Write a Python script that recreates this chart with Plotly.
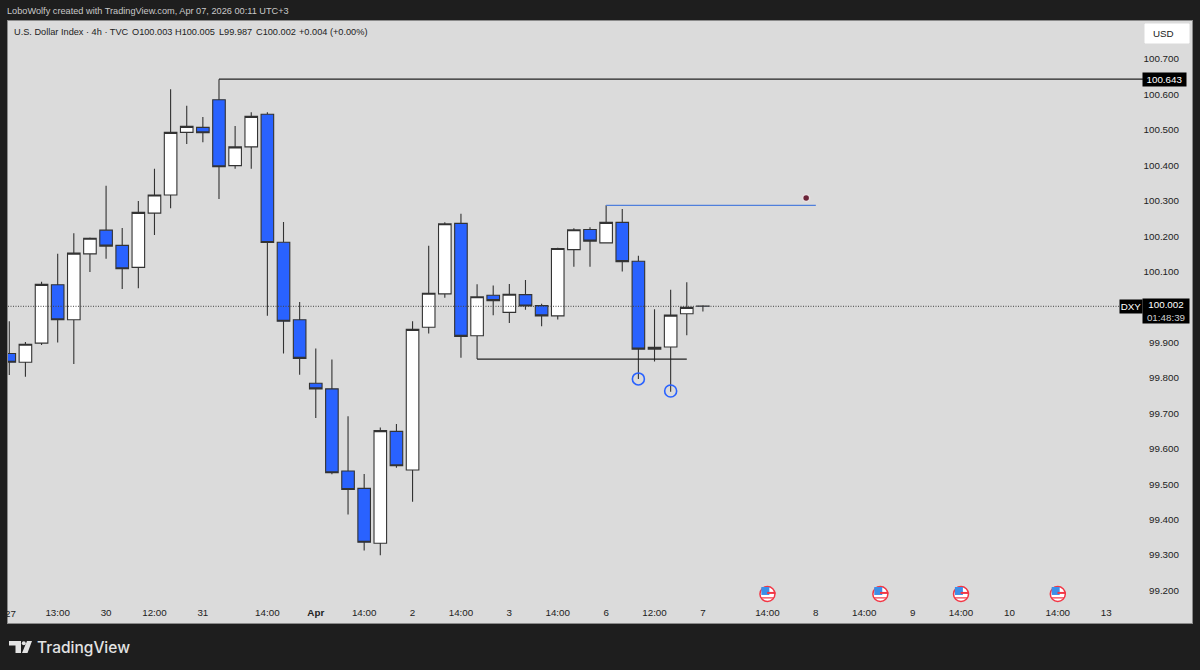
import plotly.graph_objects as go

# 4h DXY candles
opens = [99.869, 99.844, 99.898, 100.063, 99.964, 100.150, 100.217, 100.174, 100.112, 100.265, 100.316,
         100.493, 100.507, 100.585, 100.399, 100.452, 100.544, 100.183, 99.964, 99.785, 99.769, 99.537,
         99.488, 99.333, 99.649, 99.540, 99.943, 100.037, 100.236, 99.919, 100.033, 99.985, 100.035,
         100.004, 99.975, 100.162, 100.219, 100.181, 100.239, 100.129, 99.881, 99.887, 99.981, 100.003]
closes = [99.844, 99.895, 100.064, 99.964, 100.152, 100.194, 100.172, 100.108, 100.267, 100.316, 100.493,
          100.510, 100.492, 100.396, 100.452, 100.538, 100.182, 99.960, 99.855, 99.769, 99.532, 99.485,
          99.336, 99.651, 99.552, 99.937, 100.039, 100.235, 99.917, 100.029, 100.018, 100.036, 100.003,
          99.975, 100.165, 100.218, 100.186, 100.239, 100.128, 99.881, 99.886, 99.977, 99.999, 100.002]
highs = [99.960, 99.901, 100.071, 100.150, 100.208, 100.196, 100.342, 100.223, 100.299, 100.390, 100.615,
         100.568, 100.536, 100.643, 100.511, 100.550, 100.550, 100.240, 100.014, 99.883, 99.852, 99.692,
         99.529, 99.660, 99.670, 99.960, 100.173, 100.239, 100.263, 100.064, 100.061, 100.065, 100.076,
         100.009, 100.167, 100.222, 100.225, 100.287, 100.277, 100.145, 99.994, 100.049, 100.070, 100.005]
lows = [99.808, 99.803, 99.893, 99.900, 99.839, 100.099, 100.136, 100.051, 100.053, 100.203, 100.279,
        100.460, 100.465, 100.305, 100.390, 100.390, 99.975, 99.869, 99.809, 99.687, 99.528, 99.414,
        99.313, 99.299, 99.546, 99.450, 99.925, 100.026, 99.857, 99.853, 99.977, 99.955, 99.992,
        99.946, 99.965, 100.114, 100.114, 100.181, 100.100, 99.797, 99.846, 99.761, 99.920, 99.987]
bar_index = list(range(len(opens)))

time_ticks = [3, 6, 9, 12, 16, 19, 22, 25, 28, 31, 34, 37, 40, 43, 47, 50, 53, 56, 59, 62, 65, 68]
time_labels = ["13:00", "30", "12:00", "31", "14:00", "<b>Apr</b>", "14:00", "2", "14:00", "3", "14:00",
               "6", "12:00", "7", "14:00", "8", "14:00", "9", "14:00", "10", "14:00", "13"]
# 100.000 is hidden behind the last price box in the picture
price_ticks = [99.2, 99.3, 99.4, 99.5, 99.6, 99.7, 99.8, 99.9, 100.1, 100.2, 100.3, 100.4, 100.5, 100.6, 100.7]

top_level = 100.643
mid_level = 100.287
low_level = 99.853
last_price = 100.002
circle_x = [39, 41]
circle_y = [99.797, 99.763]
dot_x = [49.4]
dot_y = [100.308]
flag_x = [47, 54, 59, 65]
flag_y = [99.19, 99.19, 99.19, 99.19]

legend_parts = ["U.S. Dollar Index · 4h · TVC", "O100.003", "H100.005", "L99.987", "C100.002", "+0.004 (+0.00%)"]
legend_left = [13, 131, 174, 218, 255, 298]

INK = "#222222"
BLUE = "#2962ff"
FONT = "Liberation Sans"


# pixel -> paper, for the chrome around the chart
def px(x):
    return (x - 8) / 1184


def py(y):
    return (623 - y) / 602


def label(x, y, text, size=9.2, color=INK, anchor="left", family=FONT, weight="normal", **kw):
    fig.add_annotation(xref="paper", yref="paper", x=px(x), y=py(y), text=text, showarrow=False,
                       xanchor=anchor, yanchor="middle", borderpad=0,
                       font=dict(family=family, size=size, color=color, weight=weight), **kw)


def poly(points, color):
    path = "M " + " L ".join(f"{px(x)} {py(y)}" for x, y in points) + " Z"
    fig.add_shape(type="path", path=path, xref="paper", yref="paper", fillcolor=color, line_width=0)


fig = go.Figure()
fig.add_trace(go.Candlestick(
    x=bar_index, open=opens, high=highs, low=lows, close=closes, whiskerwidth=0,
    increasing=dict(fillcolor="#ffffff", line=dict(color="#333333", width=1.1)),
    decreasing=dict(fillcolor=BLUE, line=dict(color="#333333", width=1.1)),
))

# circles under the two lows + the small dot
fig.add_trace(go.Scatter(x=circle_x, y=circle_y, mode="markers",
                         marker=dict(symbol="circle-open", size=12, color=BLUE, line=dict(color=BLUE, width=1.6))))
fig.add_trace(go.Scatter(x=dot_x, y=dot_y, mode="markers",
                         marker=dict(size=7, color="#6b2438", line=dict(color="#e8dfe2", width=1.5))))

# economic calendar flags
fig.add_trace(go.Scatter(x=flag_x, y=flag_y, mode="markers",
                         marker=dict(size=15, color="#ffffff", line=dict(color="#f23645", width=1.5))))
fig.add_trace(go.Scatter(x=[v - 0.13 for v in flag_x], y=[v + 0.0085 for v in flag_y], mode="markers",
                         marker=dict(symbol="square", size=8, color="#3d8fe8")))
fig.add_trace(go.Scatter(x=[v + 0.24 for v in flag_x], y=[v + 0.003 for v in flag_y], mode="markers",
                         marker=dict(symbol="line-ew", size=6, line=dict(color="#f23645", width=2))))
fig.add_trace(go.Scatter(x=flag_x, y=[v - 0.011 for v in flag_y], mode="markers",
                         marker=dict(symbol="line-ew", size=9, line=dict(color="#f23645", width=1.2))))

# levels
fig.add_shape(type="line", x0=13, x1=70.3, y0=top_level, y1=top_level, line=dict(color=INK, width=1.2))
fig.add_shape(type="line", x0=37, x1=50, y0=mid_level, y1=mid_level, line=dict(color="#4f7fdc", width=1.2))
fig.add_shape(type="line", x0=29, x1=42, y0=low_level, y1=low_level, line=dict(color=INK, width=1.2))
fig.add_shape(type="line", x0=-0.08, x1=68.9, y0=last_price, y1=last_price,
              line=dict(color="#444444", width=1, dash="1px,1.5px"))

fig.update_layout(
    width=1200, height=670, autosize=False,
    margin=dict(l=8, r=8, t=21, b=47),
    paper_bgcolor="#1e1e1e", plot_bgcolor="#dbdbdb",
    showlegend=False, hovermode=False, boxgap=0.22, boxgroupgap=0,
    font=dict(family=FONT, size=9.8, color=INK),
    xaxis=dict(range=[-0.08, 73.32], rangeslider=dict(visible=False), showgrid=False, zeroline=False,
               tickmode="array", tickvals=time_ticks, ticktext=time_labels, ticks="", ticklabelposition="inside",
               ticklabeloverflow="allow", ticklabelstandoff=4, showline=True, linecolor="#8a8a8a", mirror=True,
               tickfont=dict(family=FONT, size=9.8, color=INK)),
    yaxis=dict(range=[99.1081, 100.8073], side="right", showgrid=False, zeroline=False,
               tickmode="array", tickvals=price_ticks, tickformat=".3f", ticks="", ticklabelposition="inside",
               ticklabeloverflow="allow", ticklabelstandoff=12, showline=True, linecolor="#8a8a8a", mirror=True,
               tickfont=dict(family=FONT, size=9.8, color=INK)),
)

# header and legend line
label(6, 11, "LoboWolfy created with TradingView.com, Apr 07, 2026 00:11 UTC+3", color="#c9c9c9")
for left, part in zip(legend_left, legend_parts):
    label(left, 32, part)

# first date label sits half off the pane, as a tick it would push the margin
label(3.5, 613.5, "27", size=9.8)

# price scale boxes
fig.add_shape(type="rect", xref="paper", yref="paper", x0=px(1145), x1=px(1189), y0=py(43), y1=py(24),
              fillcolor="#ffffff", line=dict(color="#ffffff", width=1))
label(1152, 33.5, "USD", size=9.8)
label(1164.5, 79.5, "100.643", size=9.8, color="#ffffff", anchor="center", bgcolor="#000000", width=43, height=13)
label(1131, 306, "DXY", size=9.8, color="#ffffff", anchor="center", bgcolor="#000000", width=22, height=13)
label(1166, 311, "100.002<br><span style='color:#cfcfcf'>01:48:39</span>", size=9.8, color="#ffffff", anchor="center",
      bgcolor="#000000", width=46, height=24)

# TradingView logo
poly([(9, 641), (21, 641), (21, 653), (15.5, 653), (15.5, 645.5), (9, 645.5)], "#e3e3e3")
poly([(27, 641), (32, 641), (27.5, 653), (22, 653)], "#e3e3e3")
fig.add_shape(type="circle", xref="paper", yref="paper", x0=px(21.8), x1=px(25.8), y0=py(645.2), y1=py(641.2),
              fillcolor="#e3e3e3", line_width=0)
label(36, 647, "TradingView", size=15.5, color="#e3e3e3", family="Inter", weight=500)

# browser default body margin would shift the whole picture
fig.write_html("out.html", config=dict(displayModeBar=False),
               post_script="document.body.style.margin='0';document.body.style.background='#1e1e1e';")
